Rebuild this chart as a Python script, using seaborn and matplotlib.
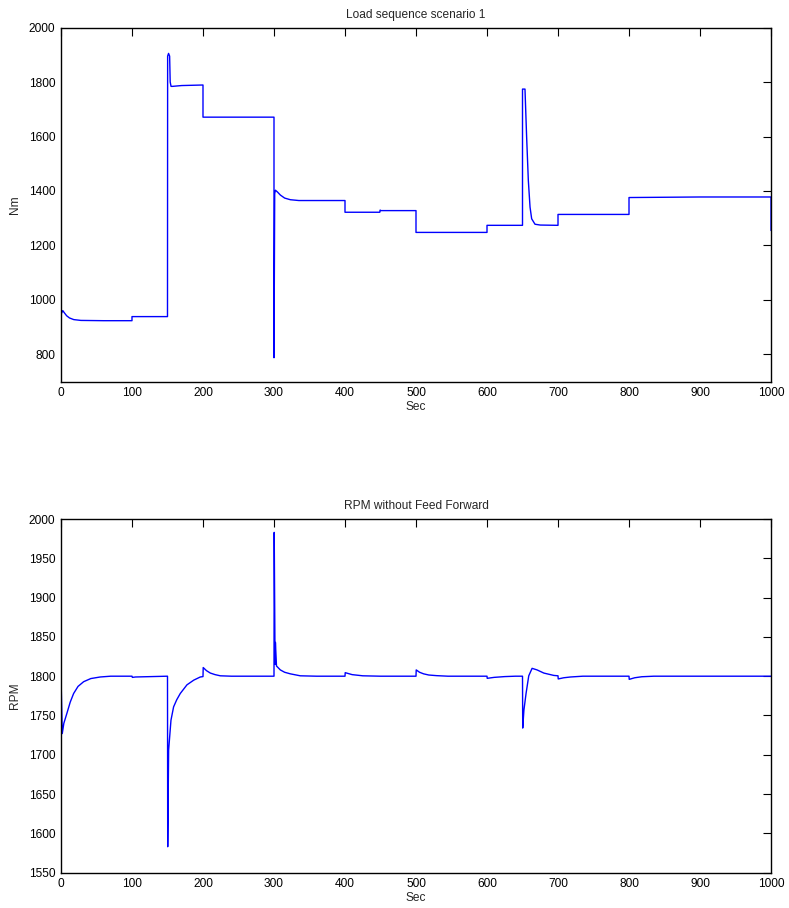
import matplotlib
matplotlib.use("Agg")
import matplotlib.pyplot as plt
import seaborn as sns
import pandas as pd

# ---- Data: load torque (Nm) ----
torque_t = [0, 0, 0.5, 2.5, 5, 8, 12, 18, 28, 60, 100, 100, 150, 150.2, 151.5, 153.0, 153.8, 155, 157, 170, 200,
            200, 300, 300, 301, 302, 305, 309, 315, 323, 335, 400,
            400, 449, 449.5, 450.5, 500, 500, 600, 600, 650, 650, 653.5, 655.8, 658.2, 660.6, 662.9, 667.6,
            675, 700, 700, 800, 800, 900, 1000, 1000]
torque_nm = [700, 705, 950, 961, 952, 942, 934, 928, 925, 924, 924, 939, 939, 1895, 1905, 1895, 1800, 1784, 1784, 1787, 1789,
             1671, 1671, 788, 1390, 1403, 1396, 1385, 1374, 1368, 1365, 1365,
             1322, 1322, 1330, 1328, 1328, 1248, 1248, 1274, 1274, 1774, 1774, 1599, 1439, 1341, 1298, 1278,
             1275, 1274, 1314, 1314, 1376, 1378, 1378, 1255]

# ---- Data: engine speed (RPM) ----
rpm_t = [0, 1.8, 4, 8.4, 13, 17.8, 24, 31.9, 42, 55.3, 70, 100, 100.5, 105, 150, 150.3, 151.6, 154.9,
         158.6, 163, 168, 177.4, 187, 196.2, 200, 200.3, 205, 210.3, 217, 224.4, 240, 300, 300.3,
         301.5, 302, 303.5, 308.9, 315, 323, 337, 360, 400, 400.3, 410, 425, 450, 500, 500.3, 505,
         510.7, 518, 529, 545, 600, 600.3, 610, 625, 640, 650, 650.3, 652, 655, 658.8, 663.5, 670.5,
         680, 694, 700, 700.3, 708, 717.7, 735, 800, 800.3, 808, 818, 835, 1000]
rpm_val = [1800, 1727, 1740, 1753, 1767, 1778, 1787, 1793, 1797, 1799, 1800, 1800, 1798.5, 1799, 1800, 1583, 1706, 1744,
           1761, 1770, 1778, 1789, 1795, 1799, 1799.5, 1811, 1807, 1804, 1802, 1800.5, 1800, 1800, 1983,
           1815, 1843, 1813, 1808, 1805, 1803, 1800.5, 1800, 1800, 1804.5, 1802, 1800.5, 1800, 1800, 1808, 1805,
           1803, 1801.5, 1800.7, 1800, 1800, 1797.3, 1798.5, 1799.5, 1800, 1800, 1734, 1757, 1778, 1800.5, 1810, 1808,
           1804, 1801, 1800.5, 1796.5, 1798, 1799, 1800, 1800, 1796, 1798, 1799.3, 1800, 1800]

top_title = "Load sequence scenario 1"
bottom_title = "RPM without Feed Forward"
x_label = "Sec"
top_ylabel = "Nm"
bottom_ylabel = "RPM"
top_yticks = [800, 1000, 1200, 1400, 1600, 1800, 2000]
bottom_yticks = [1550, 1600, 1650, 1700, 1750, 1800, 1850, 1900, 1950, 2000]
x_ticks = [0, 100, 200, 300, 400, 500, 600, 700, 800, 900, 1000]

sns.set_theme(style="white")
plt.rcParams['font.family'] = ['Liberation Sans', 'DejaVu Sans']
plt.rcParams.update({
    'font.size': 8.6,
    'axes.linewidth': 1.0,
    'axes.edgecolor': 'black',
    'xtick.direction': 'in', 'ytick.direction': 'in',
    'xtick.top': True, 'ytick.right': True,
    'xtick.major.size': 6, 'ytick.major.size': 6,
    'xtick.major.width': 0.8, 'ytick.major.width': 0.8,
    'xtick.major.pad': 4, 'ytick.major.pad': 4,
    'xtick.color': 'black', 'ytick.color': 'black',
    'xtick.labelsize': 8.6, 'ytick.labelsize': 8.6,
})

fig = plt.figure(figsize=(7.89, 9.08), dpi=100)
ax1 = fig.add_axes([0.0773, 0.5796, 0.8999, 0.3901])
ax2 = fig.add_axes([0.0773, 0.0389, 0.8999, 0.3895])

df1 = pd.DataFrame({"t": torque_t, "v": torque_nm})
df2 = pd.DataFrame({"t": rpm_t, "v": rpm_val})

sns.lineplot(data=df1, x="t", y="v", ax=ax1, sort=False, estimator=None, color="#0000ff", linewidth=1.0)
sns.lineplot(data=df2, x="t", y="v", ax=ax2, sort=False, estimator=None, color="#0000ff", linewidth=1.0)

for ax, title, ylab, yt, ylim in [
    (ax1, top_title, top_ylabel, top_yticks, (700, 2000)),
    (ax2, bottom_title, bottom_ylabel, bottom_yticks, (1550, 2000)),
]:
    ax.set_xlim(0, 1000)
    ax.set_ylim(*ylim)
    ax.set_xticks(x_ticks)
    ax.set_yticks(yt)
    ax.set_title(title, fontsize=8.6, pad=7)
    ax.set_xlabel(x_label, fontsize=8.6, labelpad=1)
    ax.set_ylabel(ylab, fontsize=8.6, labelpad=6)
    for s in ax.spines.values():
        s.set_visible(True)
        s.set_color('black')
    ax.tick_params(axis='both', which='both', direction='in', top=True, right=True, length=6)

fig.savefig("out.png", dpi=100)
